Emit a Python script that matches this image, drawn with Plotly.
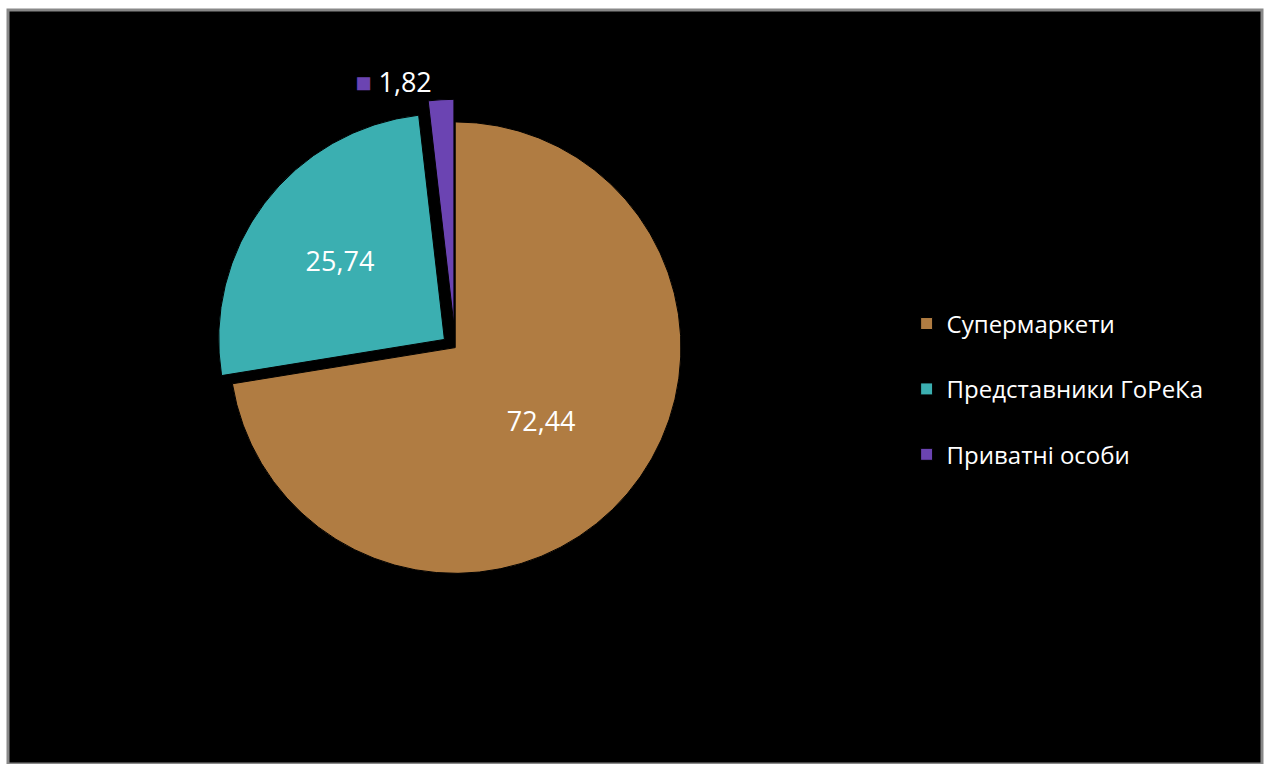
import plotly.graph_objects as go

labels = ["Супермаркети", "Представники ГоРеКа", "Приватні особи"]
values = [72.44, 25.74, 1.82]
colors = ["#B07C42", "#3BAFB1", "#6B44B2"]
pulls = [0, 0.06, 0.1]
positions = ["inside", "inside", "outside"]
texts = ["72,44", "25,74", "<span style='color:#6B44B2'>■</span> 1,82"]

# legend entries get an empty second line so that items are spaced like the original
legend_labels = [l + "<br> " for l in labels]

fig = go.Figure()
fig.add_trace(go.Pie(
    labels=legend_labels,
    values=values,
    sort=False,
    direction="clockwise",
    rotation=0,
    pull=pulls,
    text=texts,
    hovertext=labels,
    hoverinfo="text+value",
    texttemplate="%{text}",
    textposition=positions,
    textfont=dict(color="white", size=27, family="Open Sans"),
    insidetextorientation="horizontal",
    marker=dict(colors=colors, line=dict(color="#000000", width=1)),
    domain=dict(x=[0.1, 0.618], y=[0.22, 0.87]),
))

fig.update_layout(
    width=1268, height=764,
    margin=dict(l=0, r=0, t=0, b=0),
    paper_bgcolor="white",
    separators=", ",
    showlegend=True,
    legend=dict(
        x=0.715, y=0.47, xanchor="left", yanchor="middle",
        font=dict(color="white", size=24, family="Open Sans"),
        bgcolor="rgba(0,0,0,0)",
        valign="top",
        itemwidth=30,
    ),
    shapes=[dict(
        type="rect", xref="paper", yref="paper",
        x0=8/1268, x1=1262/1268, y0=0, y1=1-10/764,
        fillcolor="black", line=dict(color="#888888", width=3),
        layer="below",
    )],
)

fig.write_html("out.html")
